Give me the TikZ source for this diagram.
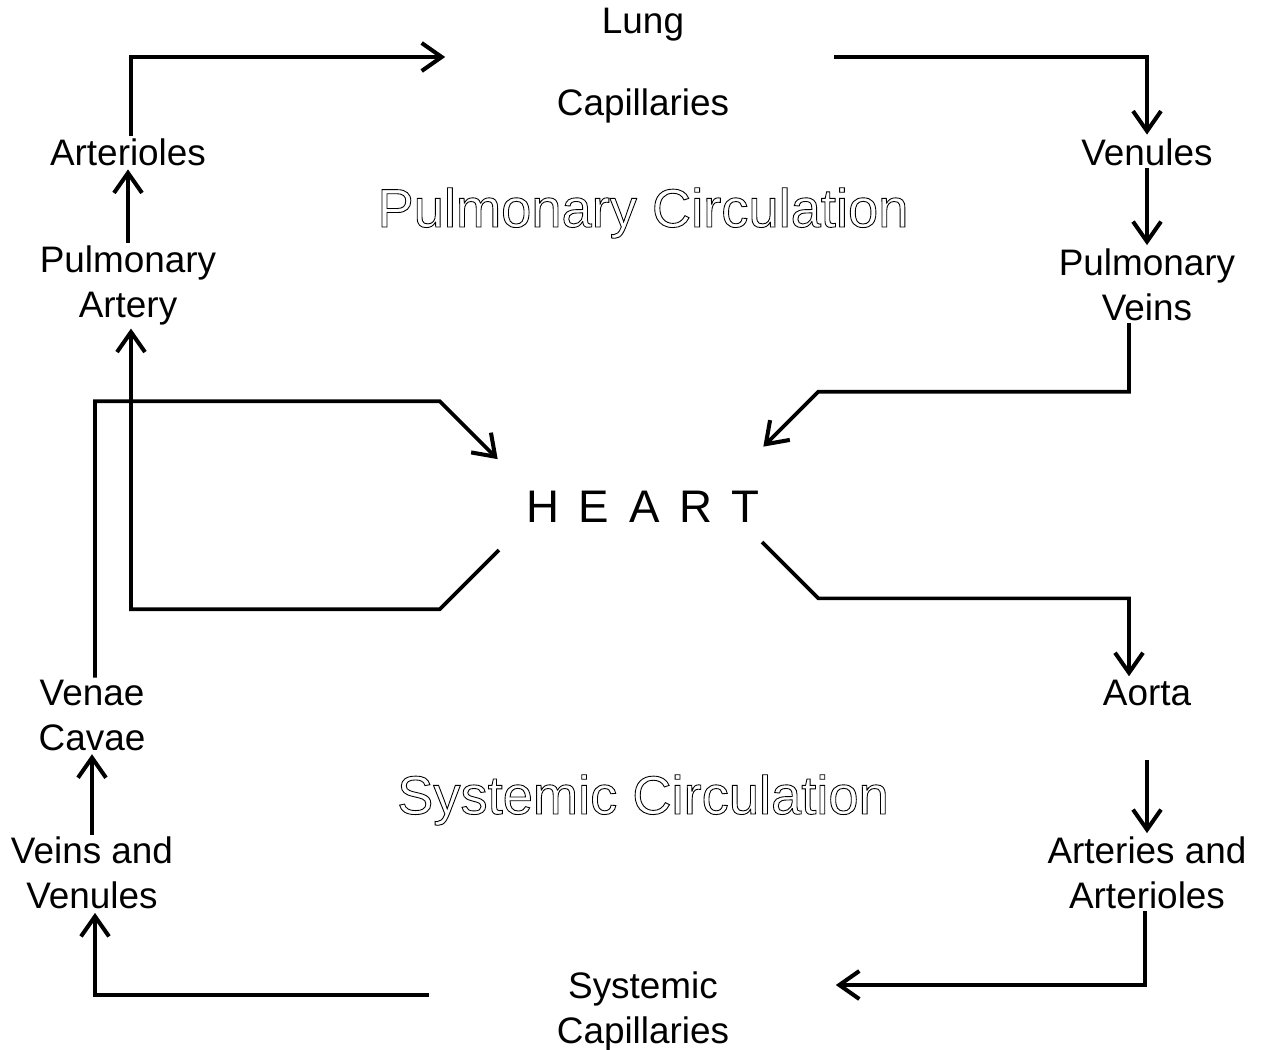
\documentclass[tikz,border=0pt]{standalone}
\usepackage{fontspec}
\setmainfont{Liberation Sans}
\usetikzlibrary{arrows.meta,calc}

\newcommand{\hollow}[1]{\special{pdf:literal direct 1 Tr 0.5 w}#1\special{pdf:literal direct 0 Tr}}
\tikzset{
  organ/.style={align=center, inner sep=2pt, font=\fontsize{21}{25.6}\selectfont},
  hub/.style={organ, minimum width=7.9cm},
  loop/.style={font=\fontsize{30.9}{34}\selectfont},
  flow/.style={line width=2.1pt, line cap=rect,
    -{Straight Barb[length=4mm,width=5.6mm,line width=2.3pt]}}
}

\begin{document}
\begin{tikzpicture}[x=0.02cm, y=0.02cm]
  \useasboundingbox (0,0) rectangle (1267,-1050);
  % pulmonary side
  \node[hub] (lung) at (643,-66) {Lung\\[21pt]Capillaries};
  \node[organ] (art) at (128,-152) {Arterioles};
  \node[organ] (pa) at (128,-285) {Pulmonary\\Artery};
  \node[organ] (ven) at (1147,-152) {Venules};
  \node[organ] (pv) at (1147,-285) {Pulmonary\\Veins};
  \node[loop] (pulm) at (643,-213) {\hollow{Pulmonary Circulation}};
  % heart
  \node[minimum width=5.3cm, minimum height=1.9cm,
        font=\fontsize{26}{30}\selectfont] (heart) at (643,-507)
        {H\hspace{0.43em}E\hspace{0.43em}A\hspace{0.43em}R\hspace{0.43em}T};
  % systemic side
  \node[organ] (vc) at (92,-715) {Venae\\Cavae};
  \node[organ] (aorta) at (1147,-693) {Aorta};
  \node[organ] (vv) at (92,-873) {Veins and\\Venules};
  \node[organ] (aa) at (1147,-873) {Arteries and\\Arterioles};
  \node[hub] (sc) at (643,-1011) {Systemic\\Capillaries};
  \node[loop] (syst) at (643,-800) {\hollow{Systemic Circulation}};

  \draw[flow] ([xshift=0.06cm]art.north) |- ([yshift=0.18cm]lung.west);
  \draw[flow] ([shift={(-0.1cm,0.18cm)}]lung.east) -| (ven.north);
  \draw[flow] (ven.south) -- (pv.north);
  \draw[flow] (pa.north) -- (art.south);
  \draw[flow] ([xshift=-0.36cm]pv.south)
    |- ($([shift={(-0.25cm,0.25cm)}]heart.north east)+(55,55)$)
    -- ([shift={(-0.25cm,0.25cm)}]heart.north east);
  \draw[flow] ([shift={(-0.25cm,0.07cm)}]heart.south west) -- ++(-58,-58)
    -| ([xshift=0.06cm]pa.south);
  \draw[flow] ([xshift=0.06cm]vc.north)
    |- ($([xshift=-0.25cm]heart.north west)+(-58,58)$)
    -- ([xshift=-0.25cm]heart.north west);
  \draw[flow] ([shift={(-0.25cm,0.23cm)}]heart.south east) -- ++(55,-55)
    -| ([xshift=-0.36cm]aorta.north);
  \draw[flow, shorten <=1.05cm] (aorta.south) -- (aa.north);
  \draw[flow] ([xshift=-0.04cm]aa.south) |- ([shift={(-0.1cm,0.52cm)}]sc.east);
  \draw[flow] ([shift={(-0.37cm,0.32cm)}]sc.west) -| ([xshift=0.06cm]vv.south);
  \draw[flow] (vv.north) -- (vc.south);
\end{tikzpicture}
\end{document}
